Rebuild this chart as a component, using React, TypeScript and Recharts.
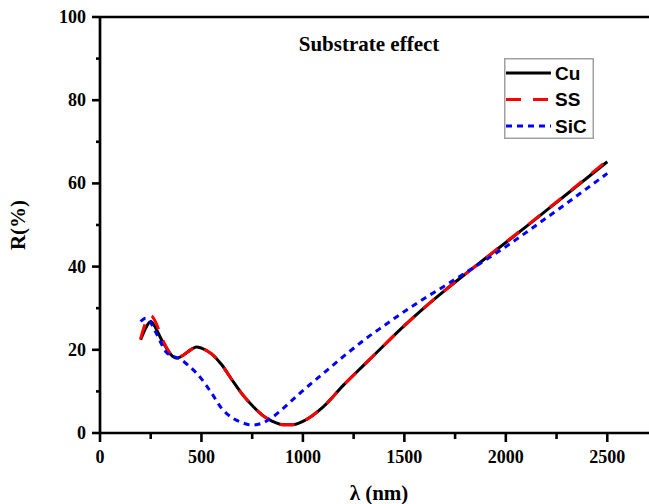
import { LineChart, Line, XAxis, YAxis, ReferenceLine, Label } from 'recharts'

const wavelength = [
  200, 225, 250, 275, 300, 325, 350, 375, 400, 450, 475, 500, 550, 600, 650, 700, 750, 800, 850, 900, 950,
  1000, 1100, 1200, 1300, 1400, 1500, 1600, 1700, 1800, 1900, 2000, 2100, 2200, 2300, 2400, 2500,
]
const cu = [
  22.4, 25.2, 26.8, 25.2, 22.7, 20.6, 18.8, 18.0, 18.4, 20.1, 20.7, 20.4, 19.0, 16.4, 12.8, 9.4, 6.6, 4.3, 2.8, 2.0, 2.0,
  2.8, 6.3, 11.5, 16.3, 21.1, 25.8, 30.2, 34.3, 38.2, 42.0, 45.8, 49.6, 53.5, 57.4, 61.3, 65.2,
]
const ss = [
  22.6, 26.5, 28.2, 26.6, 23.4, 20.8, 18.9, 18.1, 18.4, 20.1, 20.7, 20.4, 19.0, 16.4, 12.8, 9.4, 6.6, 4.3, 2.8, 2.0, 2.0,
  2.8, 6.3, 11.5, 16.3, 21.1, 25.8, 30.2, 34.3, 38.2, 42.0, 45.9, 49.7, 53.6, 57.5, 61.5, 65.5,
]
const sic = [
  26.8, 27.6, 26.5, 24.2, 21.7, 19.5, 18.6, 18.2, 17.6, 15.6, 14.4, 13.0, 9.6, 5.9, 3.7, 2.5, 1.9, 2.4, 3.8, 5.8, 8.0,
  10.2, 14.3, 18.4, 22.3, 25.8, 29.2, 32.4, 35.4, 38.5, 41.6, 44.8, 48.2, 51.7, 55.2, 58.8, 62.4,
]

const xTicks = [0, 250, 500, 750, 1000, 1250, 1500, 1750, 2000, 2250, 2500, 2750]
const yTicks = [0, 10, 20, 30, 40, 50, 60, 70, 80, 90, 100]

const data = wavelength.map((w, i) => ({ w, cu: cu[i], ss: ss[i], sic: sic[i] }))

const serif = '"Liberation Serif", "Times New Roman", serif'
const sans = '"Liberation Sans", Arial, sans-serif'

const XTick = ({ x, y, payload }: any) => {
  const major = payload.value % 500 === 0
  return (
    <g>
      <line x1={x} x2={x} y1={y} y2={y + (major ? 9 : 6)} stroke="#000" strokeWidth={2.6} />
      {major && (
        <text x={x} y={y + 30} textAnchor="middle" fontFamily={serif} fontWeight="bold" fontSize={18} fill="#000">
          {payload.value}
        </text>
      )}
    </g>
  )
}

const YTick = ({ x, y, payload }: any) => {
  const major = payload.value % 20 === 0
  return (
    <g>
      <line x1={x} x2={x - (major ? 8 : 4)} y1={y} y2={y} stroke="#000" strokeWidth={2.6} />
      {major && (
        <text x={x - 14} y={y + 6} textAnchor="end" fontFamily={serif} fontWeight="bold" fontSize={18} fill="#000">
          {payload.value}
        </text>
      )}
    </g>
  )
}

const entries = [
  { name: 'Cu', color: '#000000', dash: undefined },
  { name: 'SS', color: '#ff0000', dash: '15 12' },
  { name: 'SiC', color: '#0000ff', dash: '6 5' },
]

const LegendBox = () => (
  <svg width={90} height={81} style={{ display: 'block' }}>
    <rect x={0.75} y={0.75} width={88.5} height={79.5} fill="#fff" stroke="#a0a0a0" strokeWidth={1.5} />
    {entries.map((e, i) => (
      <g key={e.name}>
        <line x1={2} x2={47} y1={15 + i * 26.5} y2={15 + i * 26.5} stroke={e.color} strokeWidth={3} strokeDasharray={e.dash} />
        <text x={51} y={21.5 + i * 26.5} fontFamily={sans} fontWeight="bold" fontSize={19} fill="#000">
          {e.name}
        </text>
      </g>
    ))}
  </svg>
)

export default function App() {
  return (
    <div style={{ position: 'relative', width: 649, height: 504, overflow: 'hidden', background: '#fff' }}>
      <style>{'body{margin:0;overflow:hidden}'}</style>
      <LineChart width={680} height={504} data={data} margin={{ top: 17, right: 22, left: 0, bottom: 0 }}>
        <XAxis
          dataKey="w"
          type="number"
          domain={[0, 2750]}
          ticks={xTicks}
          interval={0}
          tickSize={0}
          tickMargin={0}
          tick={<XTick />}
          axisLine={{ stroke: '#000', strokeWidth: 2.7 }}
          height={71}
        >
          <Label
            value="λ (nm)"
            position="insideBottom"
            offset={4}
            style={{ fontFamily: serif, fontWeight: 'bold', fontSize: 21, fill: '#000' }}
          />
        </XAxis>
        <YAxis
          type="number"
          domain={[0, 100]}
          ticks={yTicks}
          interval={0}
          tickSize={0}
          tickMargin={0}
          tick={<YTick />}
          axisLine={{ stroke: '#000', strokeWidth: 2.7 }}
          width={100}
        >
          <Label
            value="R(%)"
            angle={-90}
            position="insideLeft"
            offset={18}
            style={{ fontFamily: serif, fontWeight: 'bold', fontSize: 21, fill: '#000', textAnchor: 'middle' }}
          />
        </YAxis>
        <ReferenceLine y={100} stroke="#000" strokeWidth={2.7} />
        <ReferenceLine x={2750} stroke="#000" strokeWidth={2.7} />
        <Line type="monotone" dataKey="cu" name="Cu" stroke="#000000" strokeWidth={3} dot={false} isAnimationActive={false} />
        <Line type="monotone" dataKey="ss" name="SS" stroke="#ff0000" strokeWidth={3} strokeDasharray="15 12" dot={false} isAnimationActive={false} />
        <Line type="monotone" dataKey="sic" name="SiC" stroke="#0000ff" strokeWidth={3} strokeDasharray="6 5" dot={false} isAnimationActive={false} />
      </LineChart>
      <div
        style={{
          position: 'absolute',
          left: 0,
          width: 738,
          top: 34,
          textAlign: 'center',
          fontFamily: serif,
          fontWeight: 'bold',
          fontSize: 21,
          lineHeight: '21px',
          color: '#000',
        }}
      >
        Substrate effect
      </div>
      <div style={{ position: 'absolute', left: 504, top: 58 }}>
        <LegendBox />
      </div>
    </div>
  )
}
